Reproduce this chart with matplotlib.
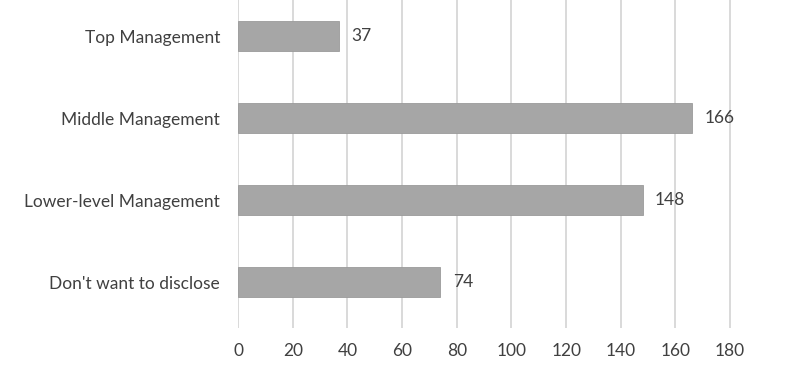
import matplotlib.pyplot as plt

# Data
categories = ['Top Management', 'Middle Management', 'Lower-level Management', "Don't want to disclose"]
counts = [37, 166, 148, 74]
x_ticks = [0, 20, 40, 60, 80, 100, 120, 140, 160, 180]

plt.rcParams['font.family'] = ['Lato', 'DejaVu Sans']

fig = plt.figure(figsize=(7.86, 3.84), dpi=100)
ax = fig.add_axes([0.303, 0.146, 0.627, 0.854])

pos = list(range(len(categories)))
ax.barh(pos, counts, height=0.36, color='#a6a6a6', edgecolor='#9a9a9a', linewidth=0.6, zorder=3)

# value labels to the right of each bar
for p, v in zip(pos, counts):
    ax.text(v + 4.5, p, str(v), va='center', ha='left', fontsize=12.5, color='#404040')

ax.set_yticks(pos)
ax.set_yticklabels(categories, fontsize=12.5, color='#404040')
ax.set_xticks(x_ticks)
ax.set_xticklabels([str(t) for t in x_ticks], fontsize=12.5, color='#404040')
ax.set_xlim(0, 180.3)
ax.set_ylim(3.56, -0.44)

ax.grid(axis='x', color='#d9d9d9', linewidth=1.4, zorder=0)
ax.tick_params(axis='y', length=0, pad=13)
ax.tick_params(axis='x', length=0, pad=11)
for s in ax.spines.values():
    s.set_visible(False)

fig.savefig('out.png', dpi=100)
